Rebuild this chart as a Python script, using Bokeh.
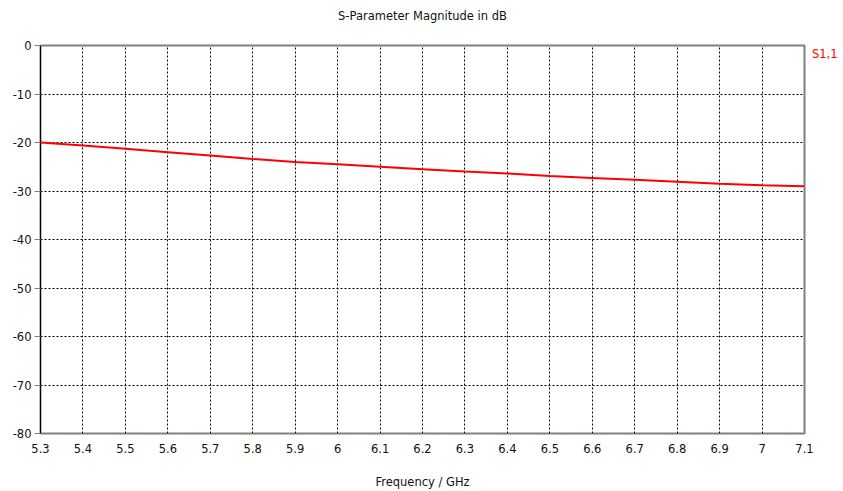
from bokeh.plotting import figure
from bokeh.models import (FixedTicker, Range1d, ColumnDataSource, Legend, LegendItem,
                          LinearAxis)
from bokeh.embed import file_html
from bokeh.resources import INLINE

# ---- data ----
freq_ghz = [5.3, 5.4, 5.5, 5.6, 5.7, 5.8, 5.9, 6.0, 6.1, 6.2,
            6.3, 6.4, 6.5, 6.6, 6.7, 6.8, 6.9, 7.0, 7.1]
s11_db = [-20.0, -20.6, -21.3, -22.0, -22.7, -23.4, -24.0, -24.5, -25.0, -25.5,
          -26.0, -26.4, -26.9, -27.3, -27.7, -28.1, -28.5, -28.8, -29.0]
x_ticks = [5.3, 5.4, 5.5, 5.6, 5.7, 5.8, 5.9, 6.0, 6.1, 6.2,
           6.3, 6.4, 6.5, 6.6, 6.7, 6.8, 6.9, 7.0, 7.1]
x_tick_labels = ["5.3", "5.4", "5.5", "5.6", "5.7", "5.8", "5.9", "6", "6.1", "6.2",
                 "6.3", "6.4", "6.5", "6.6", "6.7", "6.8", "6.9", "7", "7.1"]
y_ticks = [0, -10, -20, -30, -40, -50, -60, -70, -80]
y_tick_labels = ["0", "-10", "-20", "-30", "-40", "-50", "-60", "-70", "-80"]
title_text = "S-Parameter Magnitude in dB"
x_label_text = "Frequency / GHz"
series_name = "S1,1"

FONT = "DejaVu Sans"
FS = "11.5px"

ML, MR, MT, MB = 40, 39, 45, 58
FW, FH = 764, 388

p = figure(frame_width=FW, frame_height=FH, output_backend="svg", toolbar_location=None,
           x_range=Range1d(5.3, 7.1), y_range=Range1d(-80, 0),
           min_border_left=ML, min_border_right=MR,
           min_border_top=MT, min_border_bottom=MB)
p.title = None
p.background_fill_color = "white"
p.border_fill_color = "white"
p.outline_line_color = "#808080"
p.outline_line_width = 2

src = ColumnDataSource(dict(x=freq_ghz, y=s11_db))
r = p.line("x", "y", source=src, line_color="#ff0000", line_width=2)

# bottom axis
bx = p.below[0]
bx.ticker = FixedTicker(ticks=x_ticks)
bx.major_label_overrides = {t: s for t, s in zip(x_ticks, x_tick_labels)}
bx.major_label_text_font = FONT
bx.major_label_text_font_size = FS
bx.major_label_text_color = "#111111"
bx.minor_tick_line_color = None
bx.axis_line_color = None
bx.major_tick_out = 0
bx.major_tick_in = 0
bx.major_label_standoff = 10
bx.axis_label = x_label_text
bx.axis_label_text_font = FONT
bx.axis_label_text_font_size = FS
bx.axis_label_text_font_style = "normal"
bx.axis_label_text_color = "#111111"
bx.axis_label_standoff = 19

# left axis
ly = p.left[0]
ly.ticker = FixedTicker(ticks=y_ticks)
ly.major_label_overrides = {t: s for t, s in zip(y_ticks, y_tick_labels)}
ly.major_label_text_font = FONT
ly.major_label_text_font_size = FS
ly.major_label_text_color = "#111111"
ly.minor_tick_line_color = None
ly.axis_line_color = "#000000"
ly.axis_line_width = 1
ly.major_tick_line_color = "#808080"
ly.major_tick_out = 6
ly.major_tick_in = 0
ly.major_label_standoff = 3

# grid
for g in (p.xgrid[0], p.ygrid[0]):
    g.grid_line_color = "#000000"
    g.grid_line_dash = "2 2"
    g.grid_line_width = 1
p.xgrid[0].ticker = FixedTicker(ticks=x_ticks)
p.ygrid[0].ticker = FixedTicker(ticks=y_ticks)

# title, drawn as the label of a bare axis above the frame
top_axis = LinearAxis(ticker=FixedTicker(ticks=[]), axis_label=title_text,
                      axis_line_color=None, major_tick_out=0, major_tick_in=0,
                      minor_tick_out=0, minor_tick_in=0, minor_tick_line_color=None,
                      major_tick_line_color=None, major_label_standoff=0,
                      major_label_text_font_size="0px",
                      axis_label_standoff=23, axis_label_text_font=FONT,
                      axis_label_text_font_size=FS, axis_label_text_font_style="normal",
                      axis_label_text_color="#111111")
p.add_layout(top_axis, "above")

# series name at the right of the frame
legend = Legend(items=[LegendItem(label=series_name, renderers=[r])],
                location="top_left", orientation="vertical",
                glyph_width=0, glyph_height=8, label_height=8,
                label_standoff=6, padding=0, margin=2, spacing=0,
                border_line_color=None, background_fill_alpha=0,
                label_text_font=FONT, label_text_font_size=FS,
                label_text_color="#ff0000")
p.add_layout(legend, "right")

open("out.html", "w").write(file_html(p, INLINE))
